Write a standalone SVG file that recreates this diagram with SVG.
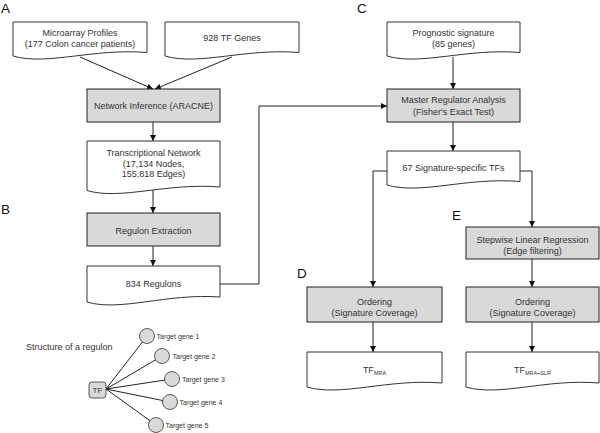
<svg xmlns="http://www.w3.org/2000/svg" width="600" height="433" viewBox="0 0 600 433">
<defs>
<style>
.doc{fill:#fff;stroke:#333;stroke-width:1}
.proc{fill:#d9d9d9;stroke:#222;stroke-width:1}
.t{font-family:"Liberation Sans",Arial,sans-serif;font-size:9px;fill:#333;text-anchor:middle}
.lbl{font-family:"Liberation Sans",Arial,sans-serif;font-size:13.5px;fill:#111}
.g{font-family:"Liberation Sans",Arial,sans-serif;font-size:7px;fill:#333}
.c{fill:none;stroke:#222;stroke-width:1}
.circ{fill:#d9d9d9;stroke:#333;stroke-width:0.8}
</style>
<marker id="ah" markerWidth="6" markerHeight="6" refX="6" refY="3" orient="auto" markerUnits="userSpaceOnUse">
<path d="M0,0 L6,3 L0,6 Z" fill="#111"/>
</marker>
</defs>
<rect width="600" height="433" fill="#fff"/>

<text class="lbl" x="1" y="13">A</text>
<text class="lbl" x="357" y="13">C</text>
<text class="lbl" x="1" y="214">B</text>
<text class="lbl" x="297" y="278">D</text>
<text class="lbl" x="452" y="220">E</text>

<g id="connectors">
<path class="c" d="M80,57 L153,89" marker-end="url(#ah)"/>
<path class="c" d="M232,57 L155,89" marker-end="url(#ah)"/>
<path class="c" d="M153,122 V141" marker-end="url(#ah)"/>
<path class="c" d="M153,190 V213" marker-end="url(#ah)"/>
<path class="c" d="M153,246 V266" marker-end="url(#ah)"/>
<path class="c" d="M220,284 H259 V106 H387" marker-end="url(#ah)"/>
<path class="c" d="M453,57 V89" marker-end="url(#ah)"/>
<path class="c" d="M453,122 V151" marker-end="url(#ah)"/>
<path class="c" d="M387,171 H373 V287" marker-end="url(#ah)"/>
<path class="c" d="M520,171 H532 V227" marker-end="url(#ah)"/>
<path class="c" d="M532,259 V287" marker-end="url(#ah)"/>
<path class="c" d="M373,322 V352" marker-end="url(#ah)"/>
<path class="c" d="M532,322 V352" marker-end="url(#ah)"/>
</g>

<g id="microarray">
<path class="doc" d="M13,22 H147 V52.5 C93.4,48 46.5,66 13,56 Z"/>
<text class="t" x="80" y="36">Microarray Profiles</text>
<text class="t" x="80" y="47">(177 Colon cancer patients)</text>
</g>
<g id="tfgenes">
<path class="doc" d="M165,22 H299 V52.5 C245.4,48 198.5,66 165,56 Z"/>
<text class="t" x="232" y="41">928 TF Genes</text>
</g>
<g id="network-inference">
<rect class="proc" x="87" y="89" width="133" height="33"/>
<text class="t" x="153.5" y="109">Network Inference (ARACNE)</text>
</g>
<g id="transcriptional-network">
<path class="doc" d="M87,141 H220 V187 C166.8,182.5 120.3,200.5 87,190.5 Z"/>
<text class="t" x="153.5" y="156">Transcriptional Network</text>
<text class="t" x="153.5" y="166.5">(17,134 Nodes,</text>
<text class="t" x="153.5" y="177">155,818 Edges)</text>
</g>
<g id="regulon-extraction">
<rect class="proc" x="87" y="213" width="133" height="33"/>
<text class="t" x="153.5" y="234">Regulon Extraction</text>
</g>
<g id="regulons">
<path class="doc" d="M87,266 H220 V297 C166.8,293 120.3,312 87,302 Z"/>
<text class="t" x="153.5" y="286.5">834 Regulons</text>
</g>
<g id="prognostic">
<path class="doc" d="M387,22 H520 V52.5 C466.8,48 420.3,66 387,56 Z"/>
<text class="t" x="453.5" y="36.3">Prognostic signature</text>
<text class="t" x="453.5" y="47">(85 genes)</text>
</g>
<g id="master-regulator">
<rect class="proc" x="387" y="89" width="133" height="33"/>
<text class="t" x="453.5" y="103.3">Master Regulator Analysis</text>
<text class="t" x="453.5" y="115">(Fisher's Exact Test)</text>
</g>
<g id="signature-tfs">
<path class="doc" d="M387,151 H520 V181.5 C466.8,177 420.3,195 387,185 Z"/>
<text class="t" x="453.5" y="170.5">67 Signature-specific TFs</text>
</g>
<g id="stepwise">
<rect class="proc" x="466" y="227" width="133" height="32"/>
<text class="t" x="532.5" y="243.3">Stepwise Linear Regression</text>
<text class="t" x="532.5" y="254">(Edge filtering)</text>
</g>
<g id="ordering-d">
<rect class="proc" x="307" y="287" width="135" height="35"/>
<text class="t" x="374.5" y="305">Ordering</text>
<text class="t" x="374.5" y="316">(Signature Coverage)</text>
</g>
<g id="ordering-e">
<rect class="proc" x="466" y="287" width="133" height="35"/>
<text class="t" x="532.5" y="305">Ordering</text>
<text class="t" x="532.5" y="316">(Signature Coverage)</text>
</g>
<g id="tf-mra">
<path class="doc" d="M307,352 H442 V383 C388,378.5 340.8,397 307,387 Z"/>
<text class="t" x="374.5" y="373">TF<tspan font-size="5.5" dy="1.5">MRA</tspan></text>
</g>
<g id="tf-mra-slr">
<path class="doc" d="M466,352 H599 V383 C545.8,378.5 499.3,397 466,387 Z"/>
<text class="t" x="532.5" y="373">TF<tspan font-size="5.5" dy="1.5">MRA+SLR</tspan></text>
</g>

<g id="regulon-structure">
<text class="t" x="26" y="349.5" style="text-anchor:start">Structure of a regulon</text>
<path class="c" stroke-width="0.8" d="M106,389 L147,336 M106,389 L162,356 M106,389 L172,379 M106,389 L170,402 M106,389 L156,425"/>
<rect x="89" y="382" width="17" height="16" rx="3" fill="#d9d9d9" stroke="#333" stroke-width="0.8"/>
<text class="t" x="97.5" y="393" style="font-size:8px">TF</text>
<circle class="circ" cx="147" cy="336" r="7.5"/>
<circle class="circ" cx="162" cy="356" r="7.5"/>
<circle class="circ" cx="172" cy="379" r="7.5"/>
<circle class="circ" cx="170" cy="402" r="7.5"/>
<circle class="circ" cx="156" cy="425" r="7.5"/>
<text class="g" x="156.5" y="338.5">Target gene 1</text>
<text class="g" x="172.5" y="358.5">Target gene 2</text>
<text class="g" x="182" y="381.5">Target gene 3</text>
<text class="g" x="179.5" y="404.5">Target gene 4</text>
<text class="g" x="165.5" y="427.5">Target gene 5</text>
</g>
</svg>
